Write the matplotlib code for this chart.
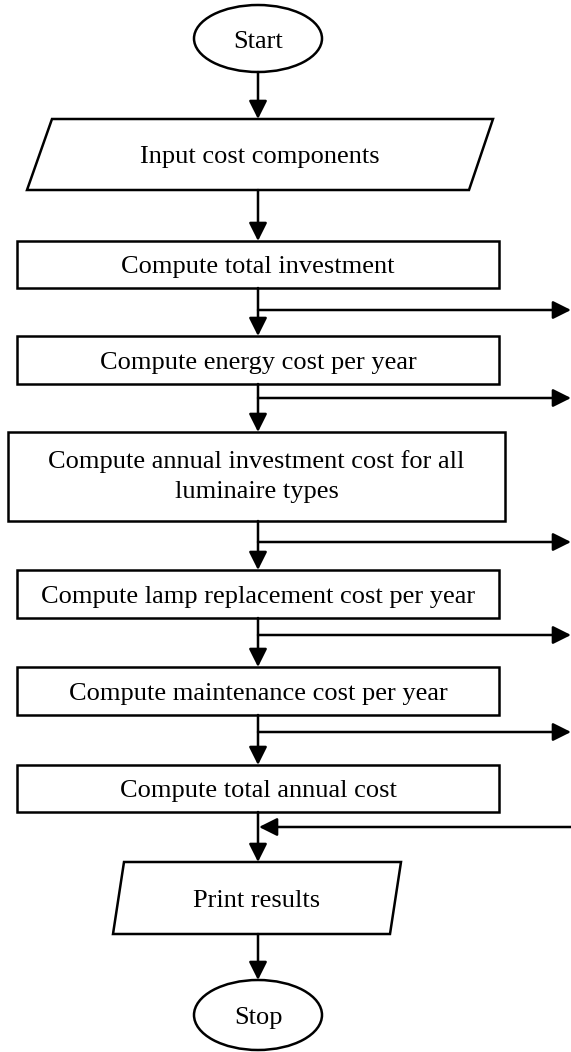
import matplotlib.pyplot as plt
from matplotlib.patches import Ellipse, Polygon, Rectangle

# Texte der Knoten (von oben nach unten)
labels = ["Start",
          "Input cost components",
          "Compute total investment",
          "Compute energy cost per year",
          "Compute annual investment cost for all\nluminaire types",
          "Compute lamp replacement cost per year",
          "Compute maintenance cost per year",
          "Compute total annual cost",
          "Print results",
          "Stop"]
kinds = ["term", "io", "proc", "proc", "proc", "proc", "proc", "proc", "io", "term"]

# Layout in Pixeln (Bild 571 x 1052)
W, H = 571, 1052
xc = 258
tops = [5, 119, 241, 336, 432, 570, 667, 765, 862, 980]
bottoms = [72, 190, 288, 384, 521, 618, 715, 812, 934, 1050]
# linke/rechte Kante oben und unten
edges = [(194, 322, 194, 322),
         (52, 493, 27, 469),
         (17, 499, 17, 499),
         (17, 499, 17, 499),
         (8, 505, 8, 505),
         (17, 499, 17, 499),
         (17, 499, 17, 499),
         (17, 499, 17, 499),
         (124, 401, 113, 390),
         (194, 322, 194, 322)]
branch_y = [310, 398, 542, 635, 732]   # Abzweige nach rechts
feedback_y = 827                       # Rueckfuehrung von rechts

lw = 1.8
arrow = dict(arrowstyle='-|>,head_length=1.0,head_width=0.5', mutation_scale=11,
             color='black', lw=lw, shrinkA=0, shrinkB=0)

plt.rcParams['font.family'] = ['Liberation Serif', 'DejaVu Serif']
fig = plt.figure(figsize=(W / 100, H / 100), dpi=100)
ax = fig.add_axes([0, 0, 1, 1])
ax.set_xlim(0, W)
ax.set_ylim(H, 0)
ax.axis('off')

for lab, kind, t, b, e in zip(labels, kinds, tops, bottoms, edges):
    tl, tr, bl, br = e
    if kind == "term":
        ax.add_patch(Ellipse(((tl + tr) / 2, (t + b) / 2), tr - tl, b - t,
                             fill=False, ec='black', lw=lw))
    elif kind == "io":
        ax.add_patch(Polygon([(tl, t), (tr, t), (br, b), (bl, b)], closed=True,
                             fill=False, ec='black', lw=lw))
    else:
        ax.add_patch(Rectangle((tl, t), tr - tl, b - t, fill=False, ec='black', lw=lw))
    dy = 0 if '\n' in lab else 3
    ax.text((tl + tr + bl + br) / 4, (t + b) / 2 + dy, lab, ha='center', va='center',
            fontsize=19, linespacing=1.5)

# senkrechte Pfeile zwischen den Knoten
for i in range(len(labels) - 1):
    ax.annotate('', xy=(xc, tops[i + 1]), xytext=(xc, bottoms[i]), arrowprops=arrow)

# Abzweige nach rechts
for y in branch_y:
    ax.annotate('', xy=(W, y), xytext=(xc, y), arrowprops=arrow)

# Rueckfuehrung
ax.annotate('', xy=(xc + 1, feedback_y), xytext=(W, feedback_y), arrowprops=arrow)

fig.savefig('out.png', dpi=100, facecolor='white')
